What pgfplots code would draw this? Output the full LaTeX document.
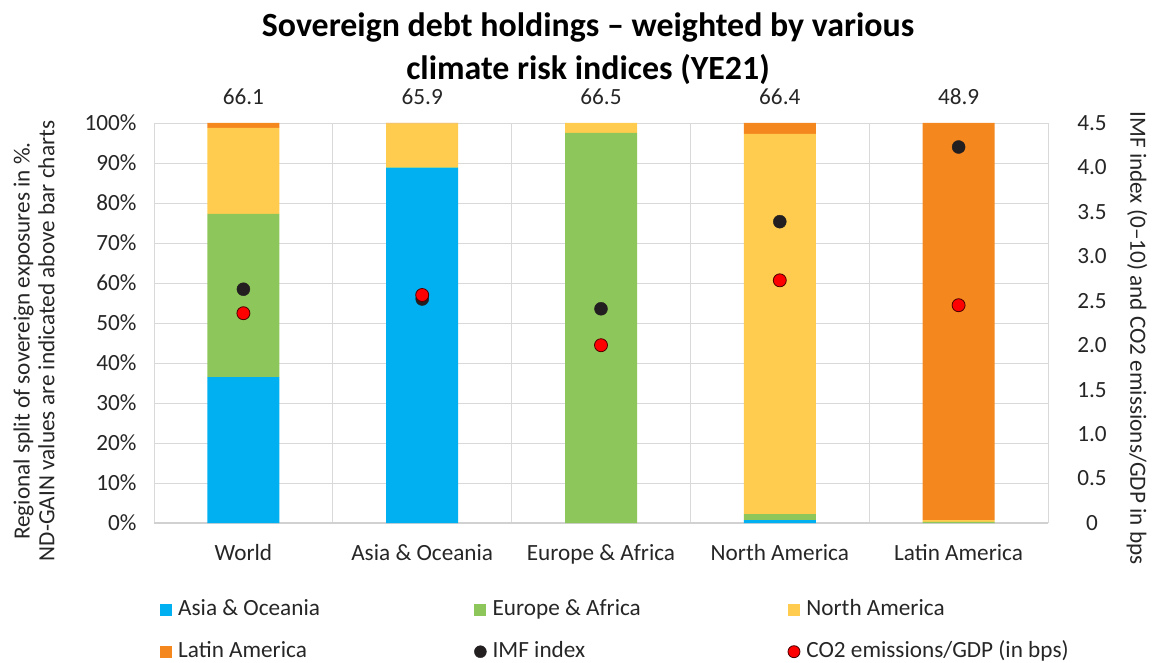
\documentclass[border=0pt]{standalone}
\usepackage{fontspec}
\setmainfont{Carlito}
\usepackage{pgfplots}
\pgfplotsset{compat=1.18}
\definecolor{cAsia}{HTML}{00B0F0}
\definecolor{cEur}{HTML}{8DC65A}
\definecolor{cNA}{HTML}{FFCC4F}
\definecolor{cLA}{HTML}{F5871F}
\definecolor{cGrid}{HTML}{D9D9D9}
\definecolor{cTxt}{HTML}{262626}
\definecolor{cDot}{HTML}{231F20}
\newcommand{\fs}{\fontsize{23.3}{25}\selectfont}
\begin{document}
\begin{tikzpicture}
\pgfplotsset{
  barleg/.style={legend image code/.code={\fill[##1] (0bp,-6bp) rectangle (12bp,6bp);}},
}
\begin{axis}[
  name=main,
  width=894bp, height=400bp, scale only axis,
  ybar stacked, bar width=72bp,
  xmin=-0.5, xmax=4.5, ymin=0, ymax=100,
  xtick={0,1,2,3,4},
  xticklabels={World,Asia \& Oceania,Europe \& Africa,North America,Latin America},
  minor xtick={-0.5,0.5,1.5,2.5,3.5,4.5},
  xminorgrids=true,
  ytick={0,10,20,30,40,50,60,70,80,90,100},
  yticklabels={0\%,10\%,20\%,30\%,40\%,50\%,60\%,70\%,80\%,90\%,100\%},
  ymajorgrids=true,
  major grid style={cGrid, line width=0.8bp},
  minor grid style={cGrid, line width=0.8bp},
  major tick length=0pt, minor tick length=0pt,
  axis line style={draw=none},
  extra y ticks={0}, extra y tick labels={},
  extra y tick style={ymajorgrids=true, major grid style={color=black!18, line width=1.8bp}},
  tick label style={font=\fs, text=cTxt},
  xticklabel style={yshift=-18bp},
  yticklabel style={xshift=-14bp},
  ylabel={Regional split of sovereign exposures in \%.\\ND-GAIN values are indicated above bar charts},
  ylabel style={at={(axis description cs:-0.1342,0.455)}, anchor=center, align=center,
    font=\fs, text=cTxt},
  title={Sovereign debt holdings – weighted by various\\climate risk indices (YE21)},
  title style={at={(axis description cs:0.4855,1)}, anchor=south, yshift=32bp, align=center,
    inner sep=0pt, font=\fontsize{34}{43}\selectfont\bfseries, text=black},
  legend columns=3,
  legend cell align=left,
  legend style={at={(axis description cs:0,0)}, anchor=north west, xshift=6bp, yshift=-76bp,
    draw=none, fill=none, inner sep=0pt, column sep=6bp, row sep=21bp,
    font=\fs, text=cTxt,
    nodes={inner sep=0pt, text height=16bp, text depth=5bp}},
]
\addplot[fill=cAsia, draw=none, barleg] coordinates {(0,36.5) (1,88.8) (2,0) (3,0.7) (4,0)};
\addlegendentry{\makebox[290bp][l]{Asia \& Oceania}}
\addplot[fill=cEur, draw=none, barleg] coordinates {(0,40.8) (1,0.1) (2,97.5) (3,1.5) (4,0.3)};
\addlegendentry{\makebox[289bp][l]{Europe \& Africa}}
\addplot[fill=cNA, draw=none, barleg] coordinates {(0,21.5) (1,11.0) (2,2.5) (3,95.05) (4,0.4)};
\addlegendentry{North America}
\addplot[fill=cLA, draw=none, barleg] coordinates {(0,1.2) (1,0.1) (2,0) (3,2.75) (4,99.3)};
\addlegendentry{\makebox[290bp][l]{Latin America}}
\addlegendimage{legend image code/.code={\filldraw[fill=cDot, draw=cDot] (6bp,0bp) circle (6bp);}}
\addlegendentry{\makebox[289bp][l]{IMF index}}
\addlegendimage{legend image code/.code={\filldraw[fill=red, draw=black!70!red, line width=0.8bp] (6bp,0bp) circle (6bp);}}
\addlegendentry{CO2 emissions/GDP (in bps)}
\end{axis}
\begin{axis}[
  width=894bp, height=400bp, scale only axis,
  xmin=-0.5, xmax=4.5, ymin=0, ymax=4.5,
  axis y line*=right, hide x axis,
  y axis line style={draw=none},
  ytick={0,0.5,1,1.5,2,2.5,3,3.5,4,4.5},
  yticklabels={0,0.5,1.0,1.5,2.0,2.5,3.0,3.5,4.0,4.5},
  major tick length=0pt,
  tick label style={font=\fs, text=cTxt},
  yticklabel style={anchor=center, xshift=44bp},
  ylabel={IMF index (0–10) and CO2 emissions/GDP in bps},
  ylabel style={at={(axis description cs:1.0996,0.4625)}, anchor=center, rotate=180,
    font=\fs, text=cTxt},
  clip=false,
]
\addplot[only marks, mark=*, mark size=6.5bp, mark options={fill=cDot, draw=cDot}]
  coordinates {(0,2.63) (1,2.52) (2,2.41) (3,3.39) (4,4.23)};
\addplot[only marks, mark=*, mark size=6.5bp, mark options={fill=red, draw=black!70!red, line width=0.8bp}]
  coordinates {(0,2.36) (1,2.565) (2,2.00) (3,2.73) (4,2.45)};
\addplot[draw=none, mark=none, nodes near coords, point meta=explicit symbolic,
  every node near coord/.append style={anchor=south, inner sep=0pt, yshift=18bp,
    font=\fs, text=cTxt}]
  table[meta=l] {
x y l
0 4.5 66.1
1 4.5 65.9
2 4.5 66.5
3 4.5 66.4
4 4.5 48.9
};
\end{axis}
\pgfresetboundingbox
\path (main.south west) ++(-154bp,-140bp) rectangle ++(1152bp,663bp);
\end{tikzpicture}
\end{document}
